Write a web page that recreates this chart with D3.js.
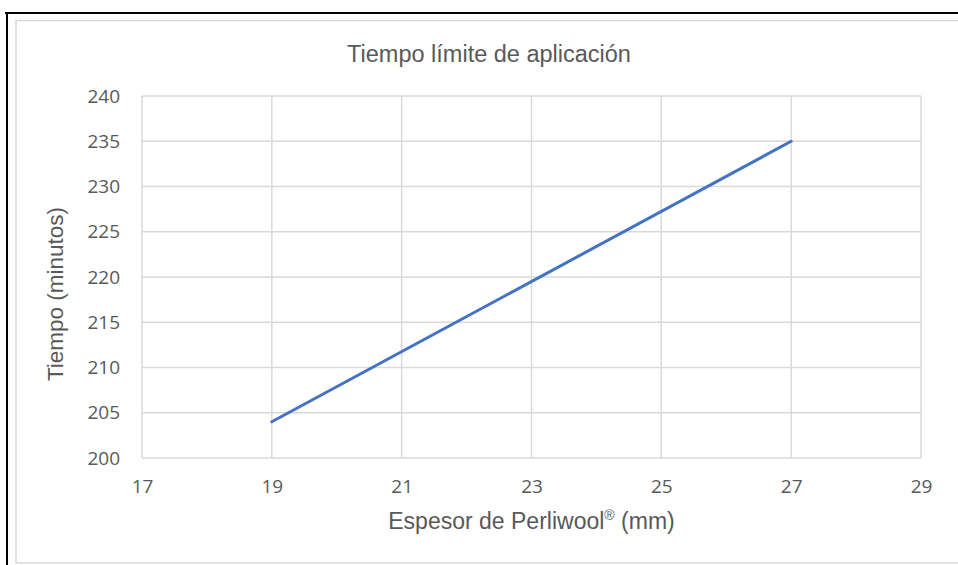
<!DOCTYPE html>
<html><head><meta charset="utf-8">
<script src="https://cdn.jsdelivr.net/npm/d3@7"></script>
<style>html,body{margin:0;padding:0;background:#fff;overflow:hidden}</style>
</head><body>
<svg id="c" width="958" height="565"></svg>
<script>
const title = "Tiempo límite de aplicación";
const xTitle = "Espesor de Perliwool";
const yTitle = "Tiempo (minutos)";
const xValues = [19, 27];
const yValues = [204, 235];
const xTicks = [17, 19, 21, 23, 25, 27, 29];
const yTicks = [200, 205, 210, 215, 220, 225, 230, 235, 240];

const svg = d3.select("#c");
// outer frame
svg.append("line").attr("x1",5).attr("x2",958).attr("y1",13).attr("y2",13).attr("stroke","#000").attr("stroke-width",2);
svg.append("line").attr("x1",7).attr("x2",7).attr("y1",12).attr("y2",565).attr("stroke","#000").attr("stroke-width",2);
// inner chart border
svg.append("rect").attr("x",16).attr("y",20.5).attr("width",960).attr("height",542.5)
  .attr("fill","#fff").attr("stroke","#d9d9d9").attr("stroke-width",1.5);

const L=142, R=921, T=96, B=458;
const x = d3.scaleLinear().domain([17,29]).range([L,R]);
const y = d3.scaleLinear().domain([200,240]).range([B,T]);
const grid = "#d9d9d9", tc = "#595959", font = "'Open Sans', sans-serif";

// gridlines
svg.append("g").selectAll("line").data(yTicks).join("line")
  .attr("x1",L).attr("x2",R).attr("y1",d=>y(d)).attr("y2",d=>y(d))
  .attr("stroke",grid).attr("stroke-width",1.5);
svg.append("g").selectAll("line").data(xTicks).join("line")
  .attr("y1",T).attr("y2",B).attr("x1",d=>x(d)).attr("x2",d=>x(d))
  .attr("stroke",grid).attr("stroke-width",1.5);

// axes via d3
const xa = svg.append("g").attr("transform",`translate(0,${B})`)
  .call(d3.axisBottom(x).tickValues(xTicks).tickSize(0).tickPadding(22).tickFormat(d3.format("d")));
xa.select(".domain").remove();
xa.selectAll("text").attr("fill",tc).style("font-family",font).style("font-size","19px");
const ya = svg.append("g").attr("transform",`translate(${L},0)`)
  .call(d3.axisLeft(y).tickValues(yTicks).tickSize(0).tickPadding(22).tickFormat(d3.format("d")));
ya.select(".domain").remove();
ya.selectAll("text").attr("fill",tc).style("font-family",font).style("font-size","19px");

// line
const line = d3.line().x((d,i)=>x(xValues[i])).y(d=>y(d));
svg.append("path").datum(yValues).attr("d",line).attr("fill","none")
  .attr("stroke","#4472c4").attr("stroke-width",3).attr("stroke-linecap","round");

// titles
const tf = "'Liberation Sans', Arial, sans-serif";
svg.append("text").attr("x",489).attr("y",62).attr("text-anchor","middle")
  .attr("fill",tc).style("font-family",tf).style("font-size","23.5px").text(title);
const xt = svg.append("text").attr("x",531.5).attr("y",529).attr("text-anchor","middle")
  .attr("fill",tc).style("font-family",tf).style("font-size","23px");
xt.append("tspan").text(xTitle);
xt.append("tspan").attr("dy",-9).style("font-size","14px").text("®");
xt.append("tspan").attr("dy",9).text(" (mm)");
svg.append("text").attr("transform","translate(63,294) rotate(-90)").attr("text-anchor","middle")
  .attr("fill",tc).style("font-family",tf).style("font-size","22.5px").text(yTitle);
</script>
</body></html>
